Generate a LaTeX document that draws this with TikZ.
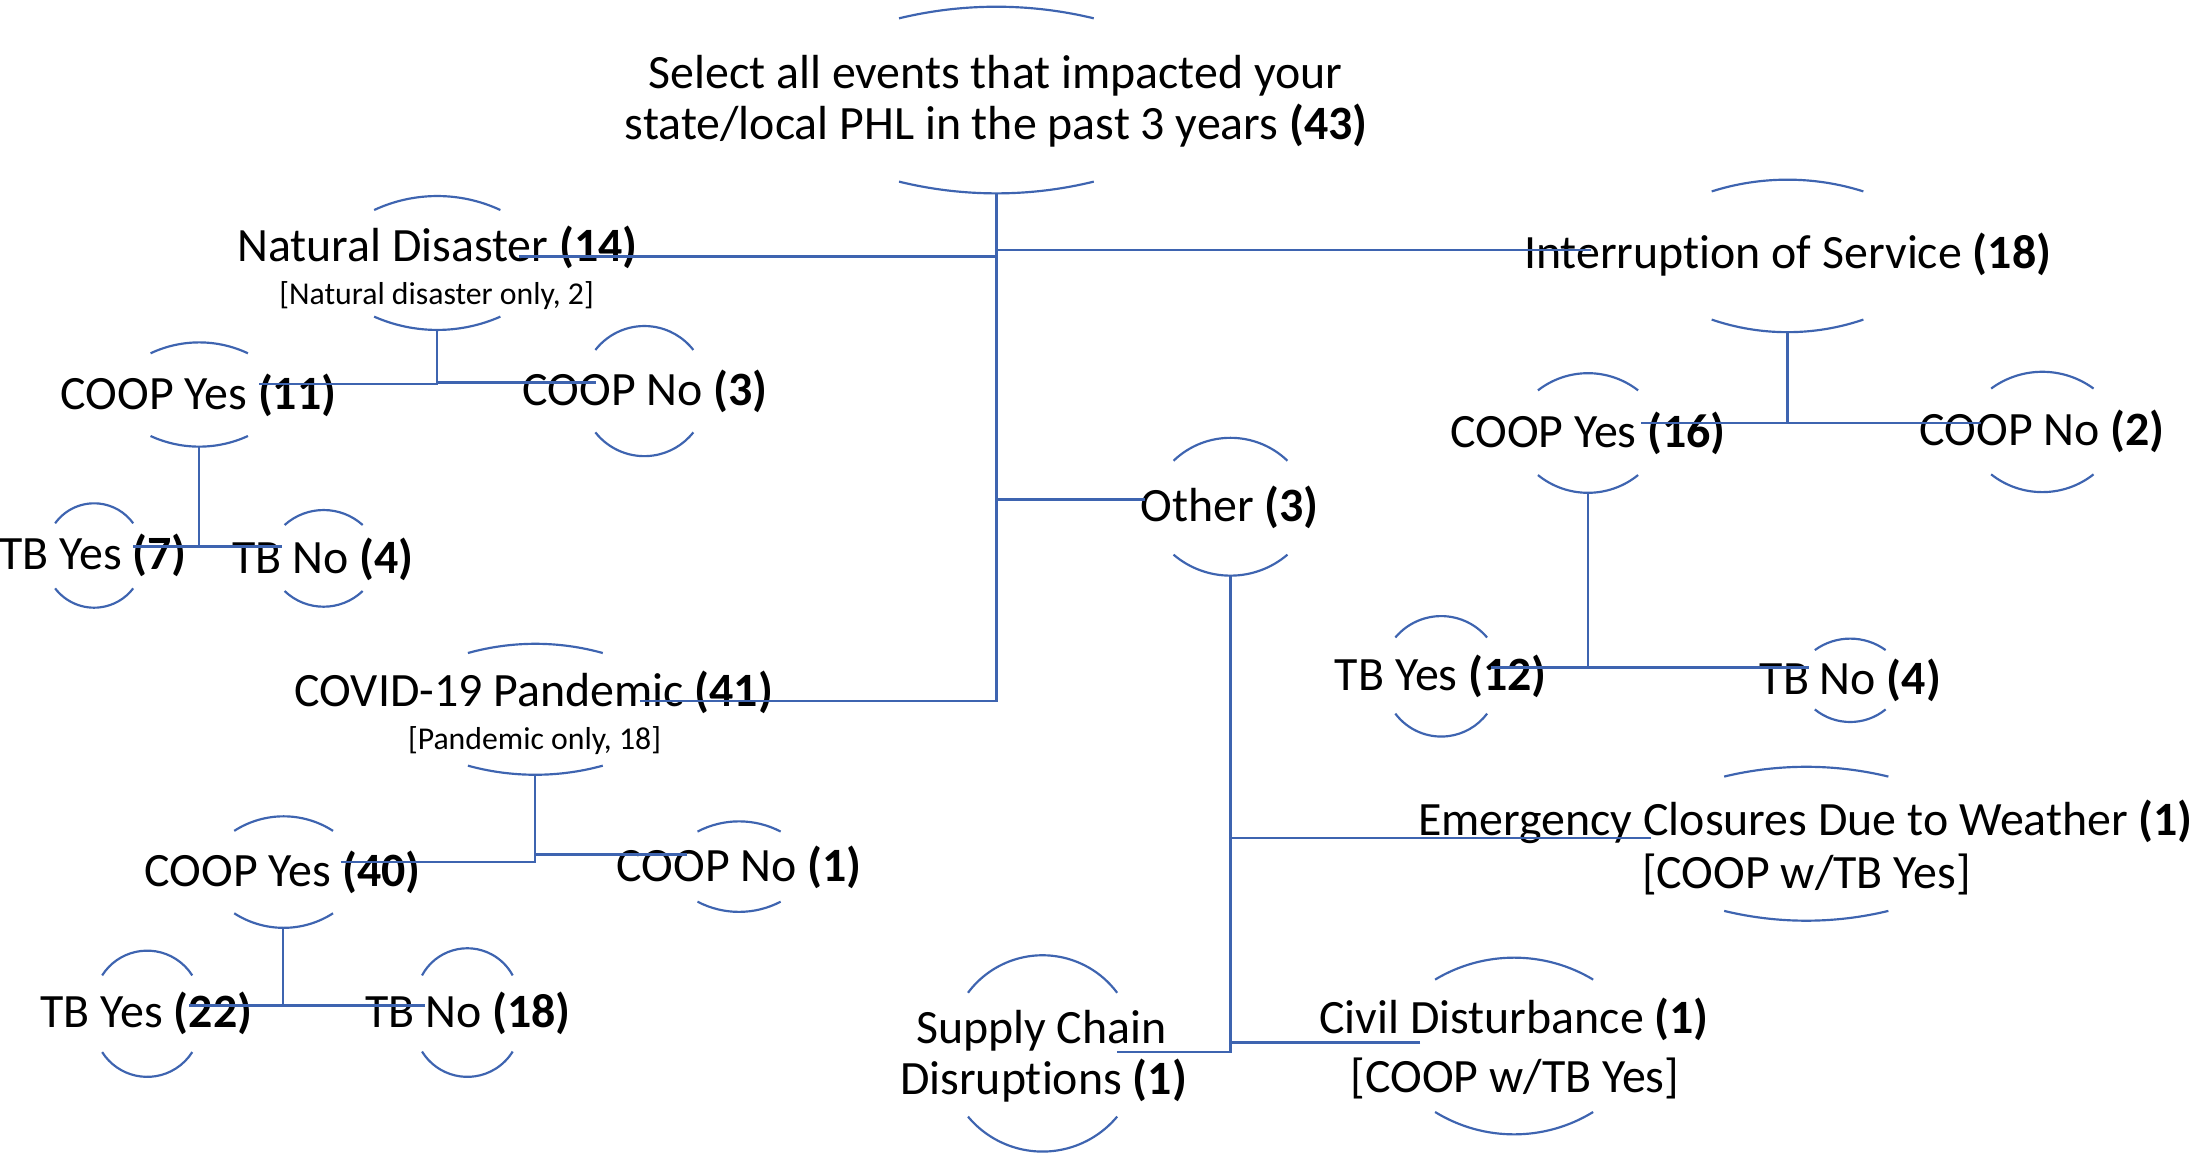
\documentclass[tikz,border=0pt]{standalone}
\usepackage{fontspec}
\setmainfont{Carlito}[Ligatures=NoCommon]
\definecolor{lnblue}{RGB}{62,100,176}
\tikzset{
  conn/.style={draw=lnblue, line width=1.8pt},
  arcln/.style={draw=lnblue, line width=1.55pt},
  lbl/.style={inner sep=0pt, anchor=base, yshift=-1pt, font=\fontsize{34.2}{37}\selectfont},
  sublbl/.style={inner sep=0pt, anchor=base, yshift=-0.5pt, font=\fontsize{22.7}{24}\selectfont},
}
% #1 cx, #2 half width, #3 top end y, #4 top peak y, #5 bottom end y, #6 bottom peak y
\newcommand\humps[6]{%
  \pgfmathsetmacro\hsA{#3-#4}%
  \pgfmathsetmacro\hrA{(#2*#2+\hsA*\hsA)/(2*\hsA)}%
  \pgfmathsetmacro\haA{asin(#2/\hrA)}%
  \draw[arcln] ({#1-#2},#3) arc[start angle={270-\haA}, end angle={270+\haA}, radius=\hrA];
  \pgfmathsetmacro\hsB{#6-#5}%
  \pgfmathsetmacro\hrB{(#2*#2+\hsB*\hsB)/(2*\hsB)}%
  \pgfmathsetmacro\haB{asin(#2/\hrB)}%
  \draw[arcln] ({#1-#2},#5) arc[start angle={90+\haB}, end angle={90-\haB}, radius=\hrB];
}
\begin{document}
\begin{tikzpicture}[x=1pt,y=-1pt]
\useasboundingbox[fill=white] (0,0) rectangle (1568,824);

% ---------- texts ----------
\node[lbl] (root1) at (711.5,62.4) {Select all events that impacted your};
\node[lbl] (root2) at (712,98.9) {state/local PHL in the past 3 years \textbf{(43)}};

\node[lbl] (nat) at (312.6,185.8) {Natural Disaster \textbf{(14)}};
\node[sublbl] (natsub) at (312,216.8) {[Natural disaster only, 2]};
\node[lbl] (ny11) at (141.9,291.8) {COOP Yes \textbf{(11)}};
\node[lbl] (nn3) at (461,289) {COOP No \textbf{(3)}};
\node[lbl] (nty7) at (66.5,406.2) {TB Yes \textbf{(7)}};
\node[lbl] (ntn4) at (230.6,408.6) {TB No \textbf{(4)}};

\node[lbl] (cov) at (381.5,503.9) {COVID-19 Pandemic \textbf{(41)}};
\node[sublbl] (covsub) at (382,535.5) {[Pandemic only, 18]};
\node[lbl] (cy40) at (202,632.7) {COOP Yes \textbf{(40)}};
\node[lbl] (cn1) at (528.2,629.1) {COOP No \textbf{(1)}};
\node[lbl] (cty22) at (104.6,733.6) {TB Yes \textbf{(22)}};
\node[lbl] (ctn18) at (334.4,733.6) {TB No \textbf{(18)}};

\node[lbl] (int) at (1277.6,190.9) {Interruption of Service \textbf{(18)}};
\node[lbl] (iy16) at (1134.9,318.6) {COOP Yes \textbf{(16)}};
\node[lbl] (in2) at (1459.4,317.3) {COOP No \textbf{(2)}};
\node[lbl] (ity12) at (1029.7,492.3) {TB Yes \textbf{(12)}};
\node[lbl] (itn4) at (1322.4,495) {TB No \textbf{(4)}};

\node[lbl] (oth) at (878.7,372) {Other \textbf{(3)}};
\node[lbl] (emg1) at (1290.3,595.9) {Emergency Closures Due to Weather \textbf{(1)}};
\node[lbl] (emg2) at (1291,634.3) {[COOP w/TB Yes]};
\node[lbl] (civ1) at (1082.1,737.9) {Civil Disturbance \textbf{(1)}};
\node[lbl] (civ2) at (1082.7,779.7) {[COOP w/TB Yes]};
\node[lbl] (sup1) at (744.3,744.6) {Supply Chain};
\node[lbl] (sup2) at (745.8,781.3) {Disruptions \textbf{(1)}};

% ---------- arcs ----------
\humps{712.1}{69.6}{13.1}{4.8}{129.8}{138.2}
\humps{312.5}{45.1}{150.1}{140.1}{226.3}{235.8}
\humps{142.4}{34.8}{252.5}{244.7}{311.6}{319.2}
\humps{460.5}{35}{250.1}{233}{309}{326}
\humps{67.3}{27.9}{374}{359.7}{420.5}{434.3}
\humps{231.3}{27.9}{375.2}{364.5}{422.4}{433.6}
\humps{382.6}{48.2}{466.7}{460.1}{547.2}{553.7}
\humps{202.7}{35.3}{593.8}{583.4}{652.7}{663.1}
\humps{528.2}{29.7}{594.3}{587}{644.4}{651.7}
\humps{105.2}{32.2}{697.1}{679.4}{751.9}{769.6}
\humps{334}{32.4}{697.1}{677.7}{751.5}{769.6}
\humps{1277.5}{54.2}{136.8}{128.4}{228.4}{237.4}
\humps{1134.9}{35.8}{279}{266.7}{339.5}{352.2}
\humps{1459.6}{36.6}{277.7}{265.7}{339}{351.7}
\humps{1030}{32.8}{455.6}{440.3}{510}{526.4}
\humps{1322.3}{25.3}{464.6}{456.4}{507}{516}
\humps{879.4}{40.7}{329.3}{312.9}{396.4}{411.4}
\humps{1290.9}{58.7}{555}{548}{651}{658}
\humps{1082.1}{56.5}{700.1}{684.4}{794.7}{810.7}
\humps{745.1}{53.3}{709.5}{682.7}{798}{823}

% ---------- connector points ----------
\coordinate (root-s) at (712,138.2);
\coordinate (cov-e) at (457.4,501);
\coordinate (nat-e) at (371,183.4);
\coordinate (int-w) at (1137,178.7);
\coordinate (oth-w) at (818,357);
\coordinate (nat-s) at (312.4,235.8);
\coordinate (ny11-e) at (185.4,274.3);
\coordinate (nn3-w) at (425.6,273.5);
\coordinate (ny11-s) at (142.2,319.2);
\coordinate (nty7-e) at (95,390.7);
\coordinate (ntn4-w) at (201.8,390.7);
\coordinate (cov-s) at (382.4,553.7);
\coordinate (cy40-e) at (243.5,616);
\coordinate (cn1-w) at (491,610.8);
\coordinate (cy40-s) at (202.3,663.1);
\coordinate (cty22-e) at (135.4,718.6);
\coordinate (ctn18-w) at (303.6,718.6);
\coordinate (int-s) at (1277.5,237.4);
\coordinate (iy16-e) at (1173,302.3);
\coordinate (in2-w) at (1416,302.3);
\coordinate (iy16-s) at (1134.9,352.2);
\coordinate (ity12-e) at (1065.6,477);
\coordinate (itn4-w) at (1292.7,477);
\coordinate (oth-s) at (879.4,411.4);
\coordinate (sup-e) at (798.5,752);
\coordinate (emg-w) at (1180,599);
\coordinate (civ-w) at (1015,744.9);

% ---------- connectors ----------
\draw[conn] (root-s) |- (cov-e);
\draw[conn] (nat-e) -- (nat-e -| root-s);
\draw[conn] (int-w) -- (int-w -| root-s);
\draw[conn] (oth-w) -- (oth-w -| root-s);

\draw[conn] (ny11-e) -| (nat-s);
\draw[conn] (nn3-w) -- (nn3-w -| nat-s);
\draw[conn] (nty7-e) -- (ntn4-w);
\draw[conn] (ny11-s) -- (ny11-s |- nty7-e);

\draw[conn] (cy40-e) -| (cov-s);
\draw[conn] (cn1-w) -- (cn1-w -| cov-s);
\draw[conn] (cty22-e) -- (ctn18-w);
\draw[conn] (cy40-s) -- (cy40-s |- cty22-e);

\draw[conn] (iy16-e) -- (in2-w);
\draw[conn] (int-s) -- (int-s |- iy16-e);
\draw[conn] (ity12-e) -- (itn4-w);
\draw[conn] (iy16-s) -- (iy16-s |- ity12-e);

\draw[conn] (oth-s) |- (sup-e);
\draw[conn] (emg-w) -- (emg-w -| oth-s);
\draw[conn] (civ-w) -- (civ-w -| oth-s);
\end{tikzpicture}
\end{document}
